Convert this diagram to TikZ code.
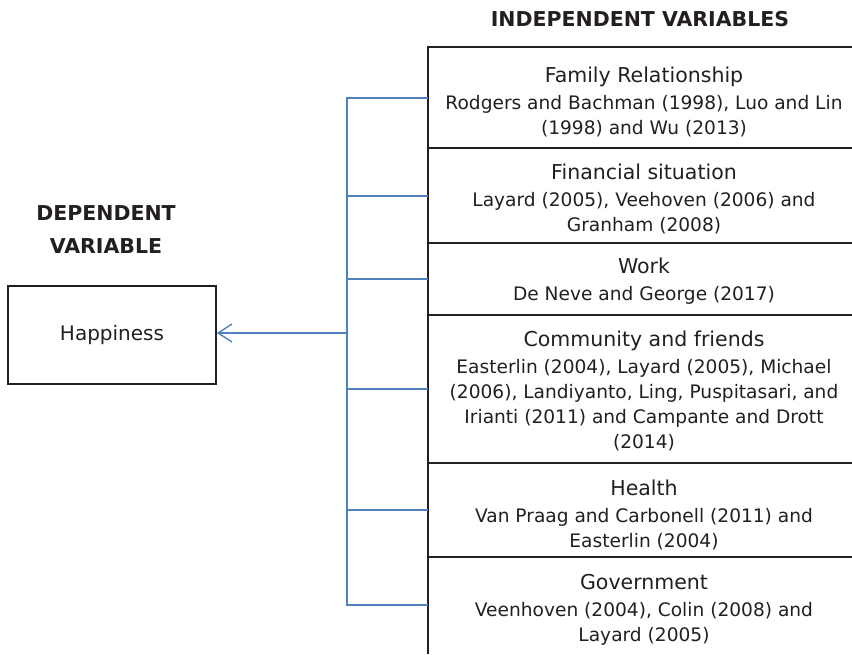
\documentclass[tikz,border=0pt]{standalone}
\usepackage{fontspec}
\setmainfont{DejaVu Sans}
\usetikzlibrary{arrows.meta}
\definecolor{linkblue}{RGB}{79,129,189}
\definecolor{ink}{RGB}{35,31,32}
\tikzset{
  cell/.style={minimum width=424pt, anchor=west, inner sep=0pt, text=ink},
  celltext/.style={align=center, text=ink, font=\fontsize{18.6}{25}\selectfont},
  frame/.style={draw=ink, line width=1.5pt},
  link/.style={draw=linkblue, line width=1.4pt},
  head/.style={font=\bfseries\fontsize{20.5}{33}\selectfont, text=ink, align=center},
}
\newcommand{\ttl}[1]{{\fontsize{20.5}{25}\selectfont #1}}
\begin{document}
\begin{tikzpicture}[x=1pt,y=-1pt]
\useasboundingbox (0,0) rectangle (852,654);
% headings
\node[head] (indep) at (640,19) {INDEPENDENT VARIABLES};
\node[head] (dep) at (106,230) {DEPENDENT\\VARIABLE};
% dependent box
\node[draw=ink, line width=1.5pt, minimum width=208pt, minimum height=98pt, inner sep=0pt,
      font=\fontsize{20}{25}\selectfont, text=ink] (happy) at (112,335) {Happiness};
% cells (geometry)
\node[cell, minimum height=101pt] (c1) at (428,97.5) {};
\node[cell, minimum height=95pt]  (c2) at (428,195.5) {};
\node[cell, minimum height=72pt]  (c3) at (428,279) {};
\node[cell, minimum height=148pt] (c4) at (428,389) {};
\node[cell, minimum height=94pt]  (c5) at (428,510) {};
\node[cell, minimum height=97pt]  (c6) at (428,605.5) {};
% cell texts
\node[celltext] (t1) at (644,101.5) {\ttl{Family Relationship}\\[2pt]Rodgers and Bachman (1998), Luo and Lin\\(1998) and Wu (2013)};
\node[celltext] (t2) at (644,198.5) {\ttl{Financial situation}\\[2pt]Layard (2005), Veehoven (2006) and\\Granham (2008)};
\node[celltext] (t3) at (644,281) {\ttl{Work}\\[2pt]De Neve and George (2017)};
\node[celltext] (t4) at (644,391) {\ttl{Community and friends}\\[2pt]Easterlin (2004), Layard (2005), Michael\\(2006), Landiyanto, Ling, Puspitasari, and\\Irianti (2011) and Campante and Drott\\(2014)};
\node[celltext] (t5) at (644,515) {\ttl{Health}\\[2pt]Van Praag and Carbonell (2011) and\\Easterlin (2004)};
\node[celltext] (t6) at (644,610) {\ttl{Government}\\[2pt]Veenhoven (2004), Colin (2008) and\\Layard (2005)};
% frame lines
\draw[frame] (c1.north east) -- (c1.north west) -- (c6.south west);
\draw[frame] (c1.south west) -- (c1.south east);
\draw[frame] (c2.south west) -- (c2.south east);
\draw[frame] (c3.south west) -- (c3.south east);
\draw[frame] (c4.south west) -- (c4.south east);
\draw[frame] (c5.south west) -- (c5.south east);
% bus
\coordinate (b1) at (347,98);
\coordinate (b2) at (347,196);
\coordinate (b3) at (347,279);
\coordinate (b4) at (347,389);
\coordinate (b5) at (347,510);
\coordinate (b6) at (347,605);
\coordinate (bm) at (347,333);
\draw[link] (b1 -| c1.west) -- (b1) -- (b6) -- (b6 -| c6.west);
\draw[link] (b2) -- (b2 -| c2.west);
\draw[link] (b3) -- (c3.west);
\draw[link] (b4) -- (c4.west);
\draw[link] (b5) -- (c5.west);
\draw[link, -{Straight Barb[length=14pt,width=18pt]}] (bm) -- (bm -| happy.east);
\end{tikzpicture}
\end{document}
